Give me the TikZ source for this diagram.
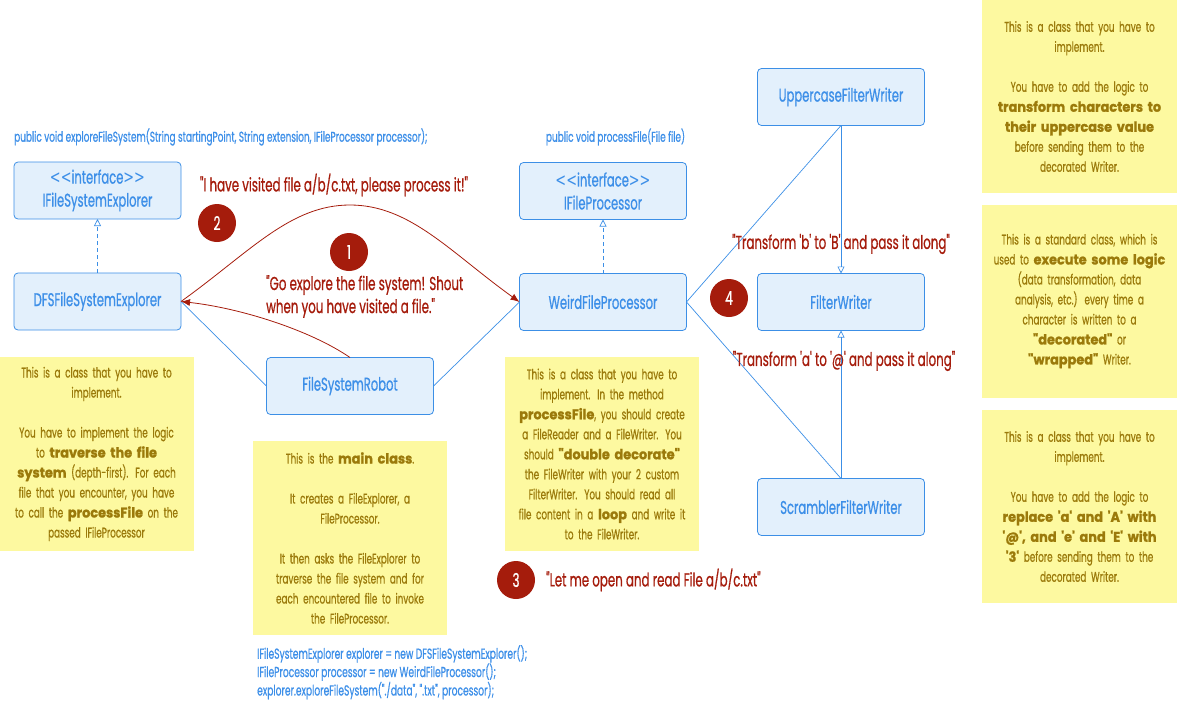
\documentclass[tikz,border=0pt]{standalone}
\usepackage{fontspec}
\usetikzlibrary{arrows.meta}
\newfontfamily\fut[FakeStretch=0.63,FakeBold=0.7,BoldFeatures={FakeStretch=0.92,FakeBold=1.2}]{Poppins}
\newfontfamily\angl[FakeStretch=0.7]{DejaVu Sans}
\definecolor{boxfill}{HTML}{E3F0FC}
\definecolor{boxline}{HTML}{3C8FE6}
\definecolor{boxtext}{HTML}{3D8FE8}
\definecolor{msgred}{HTML}{A51C0C}
\definecolor{notefill}{HTML}{FDF9A0}
\definecolor{notetext}{HTML}{9B7A0B}
\newcommand\hb[1]{{\bfseries #1}}
\newcommand\ltlt{{\angl<<}}
\newcommand\gtgt{{\angl>>}}
\tikzset{
  cls/.style={draw=boxline, fill=boxfill, text=boxtext, rounded corners=4pt, minimum width=167pt, minimum height=57pt, inner sep=0pt, outer sep=0pt, align=center, line width=0.8pt, font=\fut\fontsize{18.4}{23}\selectfont},
  note/.style={fill=notefill, text=notetext, inner sep=0pt, minimum width=194pt, minimum height=194pt, text width=192pt, align=center, font=\fut\fontsize{14}{20}\selectfont},
  badge/.style={circle, fill=msgred, text=white, minimum size=38pt, inner sep=0pt, font=\fut\fontsize{19}{20}\selectfont},
  say/.style={text=msgred, inner sep=0pt, font=\fut\fontsize{18.8}{23}\selectfont},
  sig/.style={text=boxtext, inner sep=0pt, font=\fut\fontsize{14.2}{16.5}\selectfont},
  code/.style={text=boxtext, inner sep=0pt, font=\fut\fontsize{14.5}{16.5}\selectfont},
  assoc/.style={draw=boxline, line width=0.7pt},
  impl/.style={assoc, dash pattern=on 4pt off 3pt, -{Triangle[open,width=7pt,length=7pt]}},
  inherit/.style={assoc, -{Triangle[open,width=7pt,length=7pt]}},
  msg/.style={draw=msgred, line width=0.8pt, -{Latex[length=9pt,width=7pt]}},
}
\begin{document}
\begin{tikzpicture}[x=1pt,y=-1pt]
\useasboundingbox (0,0) rectangle (1177,712);

% notes
\node[note] (nleft) at (96.5,454) {This is a class that you have to\\implement.\\[20pt]You have to implement the logic\\to \hb{traverse the file}\\\hb{system} (depth-first). For each\\file that you encounter, you have\\to call the \hb{processFile} on the\\passed IFileProcessor};
\node[note] (nmain) at (350,538) {This is the \hb{main class}.\\[20pt]It creates a FileExplorer, a\\FileProcessor.\\[20pt]It then asks the FileExplorer to\\traverse the file system and for\\each encountered file to invoke\\the FileProcessor.};
\node[note] (nweird) at (602,454) {This is a class that you have to\\implement. In the method\\\hb{processFile}, you should create\\a FileReader and a FileWriter. You\\should \hb{"double decorate"}\\the FileWriter with your 2 custom\\FilterWriter. You should read all\\file content in a \hb{loop} and write it\\to the FileWriter.};
\node[note, minimum width=195pt, minimum height=193pt] (nupper) at (1079.5,96.5) {This is a class that you have to\\implement.\\[20pt]You have to add the logic to\\\hb{transform characters to}\\\hb{their uppercase value}\\before sending them to the\\decorated Writer.};
\node[note, minimum width=195pt, minimum height=193pt] (nfilter) at (1079.5,301) {This is a standard class, which is\\used to \hb{execute some logic}\\(data transformation, data\\analysis, etc.) every time a\\character is written to a\\\hb{"decorated"} or\\\hb{"wrapped"} Writer.};
\node[note, minimum width=195pt, minimum height=193pt] (nscram) at (1079.5,506.5) {This is a class that you have to\\implement.\\[20pt]You have to add the logic to\\\hb{replace 'a' and 'A' with}\\\hb{'@', and 'e' and 'E' with}\\\hb{'3'} before sending them to the\\decorated Writer.};

% classes
\node[cls] (ifse) at (97.5,190.5) {\ltlt interface\gtgt\\IFileSystemExplorer};
\node[cls] (dfs) at (97.5,301.5) {DFSFileSystemExplorer};
\node[cls] (ifp) at (603,191) {\ltlt interface\gtgt\\IFileProcessor};
\node[cls] (weird) at (603,302) {WeirdFileProcessor};
\node[cls] (robot) at (350,386) {FileSystemRobot};
\node[cls] (upper) at (841,97) {UppercaseFilterWriter};
\node[cls] (fw) at (841,302) {FilterWriter};
\node[cls] (scram) at (841,507) {ScramblerFilterWriter};

% signatures and code
\node[sig, anchor=west] (sig1) at (14,137) {public void exploreFileSystem(String startingPoint, String extension, IFileProcessor processor);};
\node[sig] (sig2) at (615.5,137) {public void processFile(File file)};
\node[code, anchor=north west, align=left] (code) at (257,645) {IFileSystemExplorer explorer = new DFSFileSystemExplorer();\\IFileProcessor processor = new WeirdFileProcessor();\\explorer.exploreFileSystem("./data", ".txt", processor);};

% connectors
\draw[impl] (dfs.north) -- (ifse.south);
\draw[impl] (weird.north) -- (ifp.south);
\draw[assoc] (robot.west) -- (dfs.east);
\draw[assoc] (robot.east) -- (weird.west);
\draw[assoc] (weird.east) -- (upper.south);
\draw[assoc] (weird.east) -- (scram.north);
\draw[inherit] (upper.south) -- (fw.north);
\draw[inherit] (scram.north) -- (fw.south);

\coordinate (peak) at (350,205);
\draw[msg] (robot.north) .. controls (310,330) and (240,308) .. (dfs.east);
\draw[msg] (dfs.east) .. controls (250,252) and (290,205) .. (peak) .. controls (410,205) and (450,252) .. (weird.west);

% messages
\node[say] (m2) at (334,185) {"I have visited file a/b/c.txt, please process it!"};
\node[say, anchor=west, align=left] (m1) at (266,296.5) {"Go explore the file system! Shout\\when you have visited a file."};
\node[say] (m4a) at (841,244) {"Transform 'b' to 'B' and pass it along"};
\node[say] (m4b) at (844,361) {"Transform 'a' to '@' and pass it along"};
\node[say, anchor=west] (m3) at (546,580) {"Let me open and read File a/b/c.txt"};

% badges
\node[badge] (b2) at (217,223) {2};
\node[badge] (b1) at (349,252) {1};
\node[badge] (b4) at (729,298) {4};
\node[badge] (b3) at (516,580) {3};
\end{tikzpicture}
\end{document}
